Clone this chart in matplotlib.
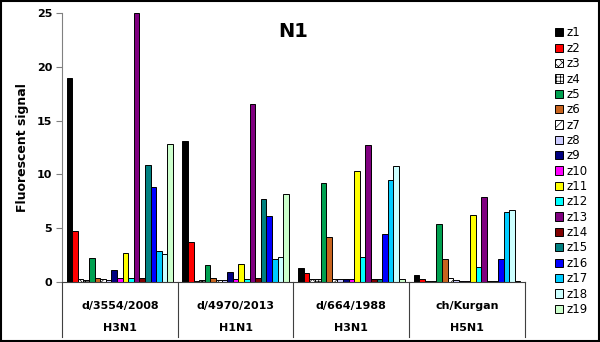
import matplotlib
matplotlib.use('Agg')
import matplotlib.pyplot as plt
from matplotlib.patches import Rectangle
import numpy as np

strains = ['d/3554/2008', 'd/4970/2013', 'd/664/1988', 'ch/Kurgan']
subtypes = ['H3N1', 'H1N1', 'H3N1', 'H5N1']
series = ['z%d' % i for i in range(1, 20)]

# one list per strain, values of z1..z19
g1 = [19.0, 4.7, 0.3, 0.2, 2.2, 0.4, 0.3, 0.2, 1.1, 0.4, 2.7, 0.4, 25.0, 0.4, 10.9, 8.8, 2.9, 2.6, 12.8]
g2 = [13.1, 3.7, 0.1, 0.2, 1.6, 0.4, 0.2, 0.2, 0.9, 0.3, 1.7, 0.3, 16.5, 0.4, 7.7, 6.1, 2.1, 2.3, 8.2]
g3 = [1.3, 0.8, 0.3, 0.3, 9.2, 4.2, 0.3, 0.3, 0.3, 0.3, 10.3, 2.3, 12.7, 0.3, 0.3, 4.5, 9.5, 10.8, 0.3]
g4 = [0.65, 0.25, 0.05, 0.05, 5.4, 2.1, 0.4, 0.2, 0.05, 0.05, 6.2, 1.4, 7.9, 0.05, 0.05, 2.1, 6.5, 6.7, 0.05]

colors = ['#000000', '#ff0000', '#ffffff', '#ffffff', '#00a050', '#c8641e', '#ffffff', '#ccccff',
          '#000080', '#ff00ff', '#ffff00', '#00ffff', '#800080', '#800000', '#008080', '#0000ff',
          '#00ccff', '#ccffff', '#ccffcc']
hatches = [None, None, 'xxxx', '++++', None, None, '////', None, None, None, None, None, None,
           None, None, None, None, None, None]

data = np.array([g1, g2, g3, g4])

plt.rcParams['hatch.linewidth'] = 0.5
fig = plt.figure(figsize=(6, 3.42), dpi=100)
ax = fig.add_axes([0.1033, 0.1754, 0.7717, 0.7866])

n = len(series)
w = 0.92 / n
x = np.arange(len(strains))
for i in range(n):
    pos = x - 0.46 + w * (i + 0.5)
    ax.bar(pos, data[:, i], width=w, color=colors[i], edgecolor='black', linewidth=0.7,
           hatch=hatches[i], label=series[i])

ax.set_xlim(-0.5, 3.5)
ax.set_ylim(0, 25)
ax.set_yticks([0, 5, 10, 15, 20, 25])
ax.set_yticklabels(['0', '5', '10', '15', '20', '25'], fontweight='bold', fontsize=8)
ax.set_xticks([])
ax.spines['top'].set_visible(False)
ax.spines['right'].set_visible(False)
ax.spines['left'].set_color('#808080')
ax.spines['bottom'].set_color('#404040')
ax.tick_params(axis='y', length=4, color='#808080', pad=3)
ax.set_ylabel('Fluorescent signal', fontweight='bold', fontsize=9, labelpad=6)
ax.text(0.5, 0.93, 'N1', transform=ax.transAxes, ha='center', va='center',
        fontsize=14, fontweight='bold')

# two-level category labels
for k in range(len(strains)):
    xc = (k + 0.5) / len(strains)
    ax.text(xc, -0.089, strains[k], transform=ax.transAxes, ha='center', va='center',
            fontsize=8, fontweight='bold')
    ax.text(xc, -0.171, subtypes[k], transform=ax.transAxes, ha='center', va='center',
            fontsize=8, fontweight='bold')
for k in range(len(strains) + 1):
    xs = k / len(strains)
    ax.plot([xs, xs], [0, -0.205], transform=ax.transAxes, color='#404040',
            linewidth=0.8, clip_on=False)

leg = fig.legend(loc='upper left', bbox_to_anchor=(0.915, 0.94), frameon=False,
                 fontsize=8.5, handlelength=0.7, handleheight=0.7, handletextpad=0.3,
                 labelspacing=0.2, borderpad=0)

fig.patches.append(Rectangle((0.002, 0.003), 0.996, 0.994, transform=fig.transFigure,
                             fill=False, edgecolor='black', linewidth=1.5))

fig.savefig('out.png', dpi=100)
